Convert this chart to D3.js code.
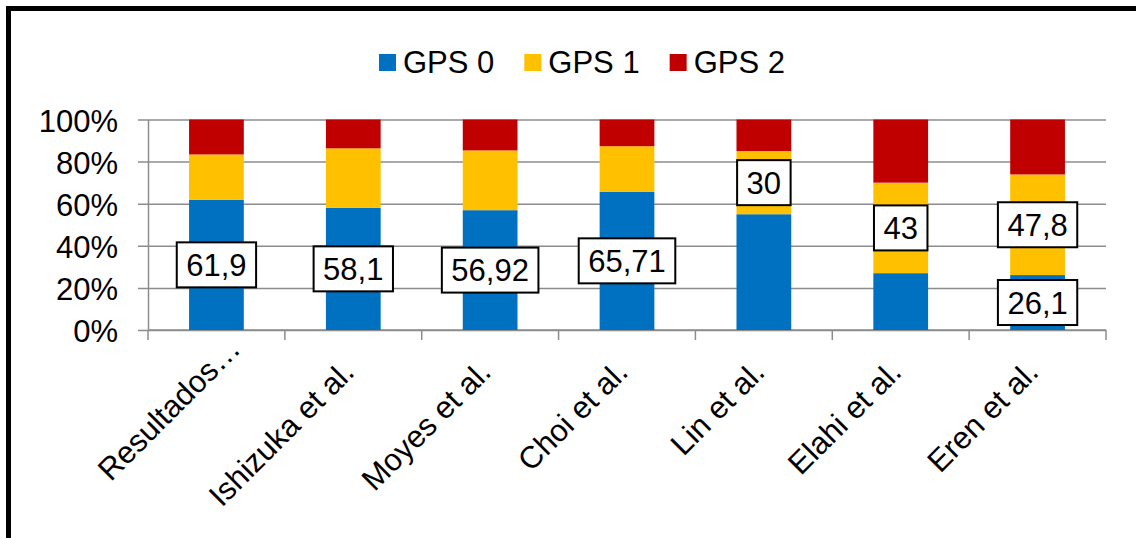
<!DOCTYPE html>
<html>
<head>
<meta charset="utf-8">
<script src="https://cdn.jsdelivr.net/npm/d3@7"></script>
<style>
  html, body { margin: 0; padding: 0; background: #fff; }
  svg { display: block; font-family: Arial, "Liberation Sans", sans-serif; }
</style>
</head>
<body>
<svg id="chart" width="1136" height="538"></svg>
<script>
// Study names along the x axis
const categories = ["Resultados…", "Ishizuka et al.", "Moyes et al.", "Choi et al.", "Lin et al.", "Elahi et al.", "Eren et al."];

// Share of patients (%) in each Glasgow Prognostic Score group
const gps0 = [61.9, 58.1, 56.92, 65.71, 55, 27, 26.1];
const gps1 = [21.5, 28.2, 28.4, 21.6, 30, 43, 47.8];
const gps2 = [16.6, 13.7, 14.68, 12.69, 15, 30, 26.1];

// Which segments carry a value label
const gps0Labelled = [true, true, true, true, false, false, true];
const gps1Labelled = [false, false, false, false, true, true, true];

const seriesNames = ["GPS 0", "GPS 1", "GPS 2"];
const seriesColors = ["#0070C0", "#FFC000", "#C00000"];
const yTicks = [0, 20, 40, 60, 80, 100];

const FONT = 31;
const svg = d3.select("#chart");

// outer frame
svg.append("rect")
  .attr("x", 8.5).attr("y", 8.5)
  .attr("width", 1150).attr("height", 560)
  .attr("fill", "#fff").attr("stroke", "#000").attr("stroke-width", 5);

const plot = { left: 148, right: 1106, top: 119.5, bottom: 330 };

const x = d3.scaleBand()
  .domain(categories)
  .range([plot.left, plot.right])
  .paddingInner(0.6)
  .paddingOuter(0.3);

const y = d3.scaleLinear().domain([0, 100]).range([plot.bottom, plot.top]);

const rows = categories.map((c, i) => ({ cat: c, "GPS 0": gps0[i], "GPS 1": gps1[i], "GPS 2": gps2[i] }));
const stacked = d3.stack().keys(seriesNames)(rows);

const gridColor = "#8c8c8c";

// horizontal gridlines with small outside ticks
const yAxis = d3.axisLeft(y)
  .tickValues(yTicks)
  .tickSize(-(plot.right - plot.left))
  .tickSizeOuter(0)
  .tickFormat(d => d + "%");
const gy = svg.append("g").attr("transform", `translate(${plot.left},0)`).call(yAxis);
gy.select(".domain").attr("stroke", gridColor).attr("stroke-width", 1.5);
gy.selectAll(".tick line").attr("stroke", gridColor).attr("stroke-width", 1.5).attr("x1", -10);
gy.selectAll(".tick text")
  .attr("x", -30).attr("dy", "0.38em")
  .attr("font-size", FONT).attr("fill", "#000")
  .attr("font-family", "Arial, 'Liberation Sans', sans-serif");

// x axis line and category boundary ticks
const step = x.step();
const boundaries = d3.range(categories.length + 1).map(i => plot.left + i * step);
svg.append("line")
  .attr("x1", plot.left).attr("x2", plot.right)
  .attr("y1", plot.bottom).attr("y2", plot.bottom)
  .attr("stroke", gridColor).attr("stroke-width", 1.5);
svg.append("g").selectAll("line").data(boundaries).join("line")
  .attr("x1", d => d).attr("x2", d => d)
  .attr("y1", plot.bottom).attr("y2", plot.bottom + 10)
  .attr("stroke", gridColor).attr("stroke-width", 1.5);

// stacked bars
svg.append("g").selectAll("g").data(stacked).join("g")
  .attr("fill", (d, i) => seriesColors[i])
  .selectAll("rect").data(d => d).join("rect")
  .attr("x", d => x(d.data.cat))
  .attr("width", x.bandwidth())
  .attr("y", d => y(d[1]))
  .attr("height", d => y(d[0]) - y(d[1]));

// value labels in white boxes, centred on their segment
const fmt = v => String(v).replace(".", ",");
const labelled = [gps0Labelled, gps1Labelled];
const labelData = [];
labelled.forEach((flags, s) => {
  stacked[s].forEach((seg, i) => {
    if (flags[i]) labelData.push({ cat: seg.data.cat, mid: (seg[0] + seg[1]) / 2, value: seg[1] - seg[0], raw: s === 0 ? gps0[i] : gps1[i] });
  });
});
const lg = svg.append("g").selectAll("g").data(labelData).join("g")
  .attr("transform", d => `translate(${x(d.cat) + x.bandwidth() / 2},${y(d.mid)})`);
lg.append("rect").attr("fill", "#fff").attr("stroke", "#000").attr("stroke-width", 2);
lg.append("text")
  .attr("text-anchor", "middle").attr("dy", "0.36em")
  .attr("font-size", FONT).attr("fill", "#000")
  .text(d => fmt(d.raw));
lg.each(function () {
  const g = d3.select(this);
  const w = g.select("text").node().getComputedTextLength() + 19;
  const h = 45;
  g.select("rect").attr("x", -w / 2).attr("y", -h / 2).attr("width", w).attr("height", h);
});

// rotated category labels
svg.append("g").selectAll("text").data(categories).join("text")
  .attr("transform", d => {
    const cx = x(d) + x.bandwidth() / 2;
    // a truncated label sits further along its own direction
    const shift = d.endsWith("…") ? 33 : 0;
    const ox = cx + 2.5 + shift * Math.SQRT1_2;
    const oy = plot.bottom + 44 - shift * Math.SQRT1_2;
    return `translate(${ox},${oy}) rotate(-45)`;
  })
  .attr("text-anchor", "end")
  .attr("font-size", FONT).attr("fill", "#000")
  .text(d => d);

// legend
const legend = svg.append("g");
let lx = 379;
seriesNames.forEach((name, i) => {
  legend.append("rect")
    .attr("x", lx).attr("y", 54).attr("width", 17).attr("height", 17)
    .attr("fill", seriesColors[i]);
  const t = legend.append("text")
    .attr("x", lx + 24).attr("y", 72.5)
    .attr("font-size", FONT).attr("fill", "#000")
    .text(name);
  lx += 24 + t.node().getComputedTextLength() + 30;
});
</script>
</body>
</html>
